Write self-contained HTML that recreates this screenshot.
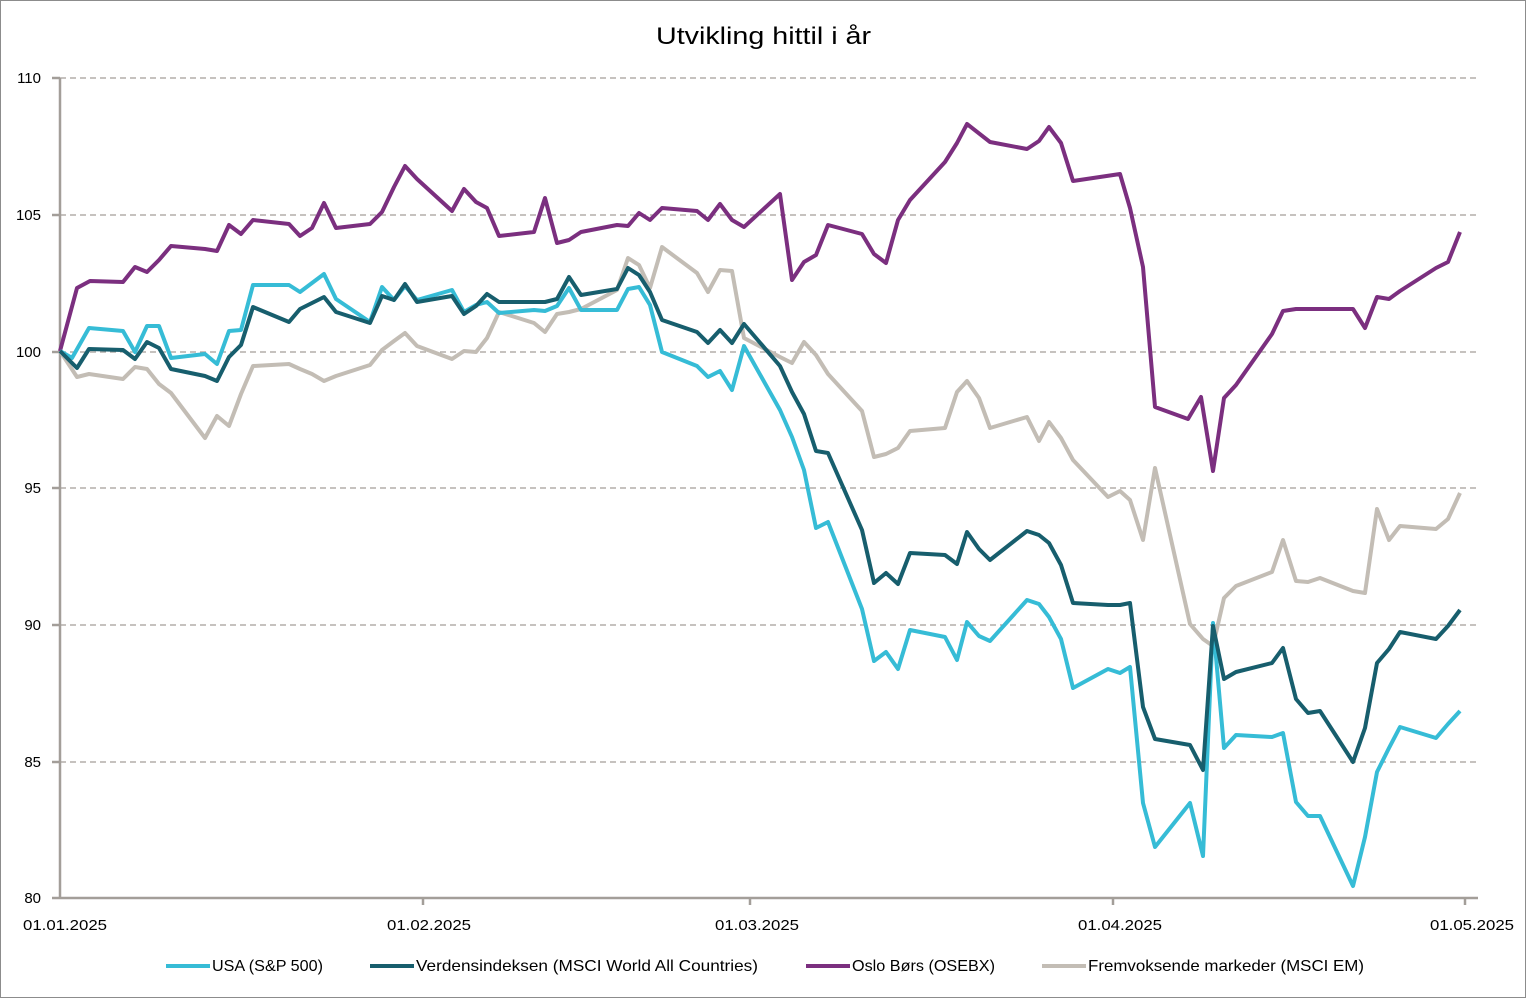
<!DOCTYPE html>
<html><head><meta charset="utf-8"><style>body{margin:0;background:#fff}svg{display:block;font-family:"Liberation Sans",sans-serif}</style></head><body>
<svg width="1526" height="998" viewBox="0 0 1526 998">
<rect x="0.5" y="0.5" width="1525" height="997" fill="#fff" stroke="#8c8c8c"/>
<text x="656" y="44" font-size="24" textLength="215" lengthAdjust="spacingAndGlyphs" fill="#000">Utvikling hittil i år</text>
<g stroke="#a39e99" stroke-width="1.3" stroke-dasharray="6,4">
<line x1="60" y1="78" x2="1478" y2="78"/><line x1="60" y1="215" x2="1478" y2="215"/><line x1="60" y1="352" x2="1478" y2="352"/><line x1="60" y1="488" x2="1478" y2="488"/><line x1="60" y1="625" x2="1478" y2="625"/><line x1="60" y1="762" x2="1478" y2="762"/>
</g>
<g stroke="#a39e99" stroke-width="2.5">
<line x1="60" y1="78" x2="60" y2="898"/><line x1="52" y1="898" x2="1478" y2="898"/>
<line x1="52" y1="78" x2="60" y2="78"/><line x1="52" y1="215" x2="60" y2="215"/><line x1="52" y1="352" x2="60" y2="352"/><line x1="52" y1="488" x2="60" y2="488"/><line x1="52" y1="625" x2="60" y2="625"/><line x1="52" y1="762" x2="60" y2="762"/>
<line x1="423" y1="898" x2="423" y2="905"/><line x1="750" y1="898" x2="750" y2="905"/><line x1="1113" y1="898" x2="1113" y2="905"/><line x1="1465" y1="898" x2="1465" y2="905"/>
</g>
<g font-size="15" fill="#000" text-anchor="end">
<text x="41" y="83">110</text><text x="41" y="220">105</text><text x="41" y="357">100</text><text x="41" y="493">95</text><text x="41" y="630">90</text><text x="41" y="767">85</text><text x="41" y="903">80</text>
</g>
<g font-size="15" fill="#000">
<text x="23" y="930" textLength="84" lengthAdjust="spacingAndGlyphs">01.01.2025</text>
<text x="387" y="930" textLength="84" lengthAdjust="spacingAndGlyphs">01.02.2025</text>
<text x="715" y="930" textLength="84" lengthAdjust="spacingAndGlyphs">01.03.2025</text>
<text x="1078" y="930" textLength="84" lengthAdjust="spacingAndGlyphs">01.04.2025</text>
<text x="1430" y="930" textLength="84" lengthAdjust="spacingAndGlyphs">01.05.2025</text>
</g>
<g fill="none" stroke-width="4" stroke-linejoin="round">
<polyline stroke="#c3bdb5" points="60,351 77,377 89,374 123,379 135,367 147,369 159,384 171,393 205,438 217,416 229,426 241,394 253,366 289,364 300,369 312,374 324,381 336,376 370,365 382,350 394,341 405,333 417,346 452,359 464,351 476,352 487,338 499,312 534,323 545,332 557,314 569,312 581,309 617,290 628,258 639,265 650,288 662,247 697,273 708,292 720,270 732,271 744,338 780,357 792,363 804,342 816,355 828,374 862,411 874,457 886,454 898,448 910,431 945,428 957,392 967,381 979,398 990,428 1027,417 1039,441 1049,422 1061,438 1073,460 1108,497 1120,491 1130,500 1143,540 1155,468 1190,624 1203,639 1213,646 1224,598 1236,586 1272,572 1283,540 1296,581 1308,582 1320,578 1353,591 1365,593 1377,509 1389,540 1400,526 1436,529 1448,519 1460,493"/>
<polyline stroke="#7b2f7f" points="60,351 77,288 90,281 123,282 135,267 147,272 159,260 171,246 205,249 217,251 229,225 241,234 253,220 289,224 300,236 312,228 324,203 336,228 370,224 382,212 394,187 405,166 417,179 452,211 464,189 476,202 487,208 499,236 534,232 545,198 557,243 569,240 581,232 617,225 628,226 639,213 650,220 662,208 697,211 708,220 720,204 732,220 744,227 780,194 792,280 804,262 816,255 828,225 862,234 874,254 886,263 898,220 910,200 945,162 957,143 967,124 990,142 1027,149 1039,141 1049,127 1061,143 1073,181 1120,174 1130,208 1143,267 1155,407 1188,419 1201,397 1213,471 1224,398 1236,385 1272,334 1283,311 1296,309 1353,309 1365,328 1377,297 1389,299 1400,291 1436,268 1448,262 1460,232"/>
<polyline stroke="#36bcd6" points="60,351 72,358 89,328 123,331 135,352 147,326 159,326 171,358 205,354 217,364 229,331 241,330 253,285 289,285 300,292 324,274 336,299 370,322 382,287 394,300 405,286 417,300 452,290 464,312 476,305 487,302 499,313 534,310 545,311 557,306 569,288 581,310 617,310 628,289 639,287 650,305 662,352 697,366 708,377 720,371 732,390 744,346 780,410 792,437 804,470 816,528 828,522 862,609 874,661 886,652 898,669 910,630 945,637 957,660 967,622 979,636 990,641 1027,600 1039,604 1049,617 1061,639 1073,688 1108,669 1120,673 1130,667 1143,803 1155,847 1190,803 1203,856 1213,623 1224,748 1236,735 1272,737 1283,733 1296,802 1308,816 1320,816 1353,886 1365,837 1377,772 1389,748 1400,727 1436,738 1448,724 1460,711"/>
<polyline stroke="#175e6d" points="60,351 77,368 89,349 123,350 135,359 147,342 159,348 171,369 205,376 217,381 229,357 241,345 253,307 289,322 300,309 324,297 336,312 370,323 382,296 394,300 405,284 417,302 452,296 464,314 476,306 487,294 499,302 534,302 545,302 557,299 569,277 581,295 617,289 628,268 639,275 650,292 662,320 697,332 708,343 720,330 732,343 744,324 780,366 792,392 804,414 816,451 828,453 862,530 874,583 886,573 898,584 910,553 945,555 957,564 967,532 979,549 990,560 1027,531 1039,535 1049,543 1061,565 1073,603 1108,605 1120,605 1130,603 1143,707 1155,739 1190,745 1203,770 1213,626 1224,679 1236,672 1272,663 1283,648 1296,699 1308,713 1320,711 1353,762 1365,728 1377,663 1389,649 1400,632 1436,639 1448,626 1460,610"/>
</g>
<g stroke-width="4">
<line x1="166" y1="966" x2="210" y2="966" stroke="#36bcd6"/>
<line x1="370" y1="966" x2="414" y2="966" stroke="#175e6d"/>
<line x1="806" y1="966" x2="850" y2="966" stroke="#7b2f7f"/>
<line x1="1042" y1="966" x2="1086" y2="966" stroke="#c3bdb5"/>
</g>
<g font-size="16" fill="#000">
<text x="212" y="971" textLength="111" lengthAdjust="spacingAndGlyphs">USA (S&amp;P 500)</text>
<text x="416" y="971" textLength="342" lengthAdjust="spacingAndGlyphs">Verdensindeksen (MSCI World All Countries)</text>
<text x="852" y="971" textLength="143" lengthAdjust="spacingAndGlyphs">Oslo Børs (OSEBX)</text>
<text x="1088" y="971" textLength="276" lengthAdjust="spacingAndGlyphs">Fremvoksende markeder (MSCI EM)</text>
</g>
</svg>
</body></html>
